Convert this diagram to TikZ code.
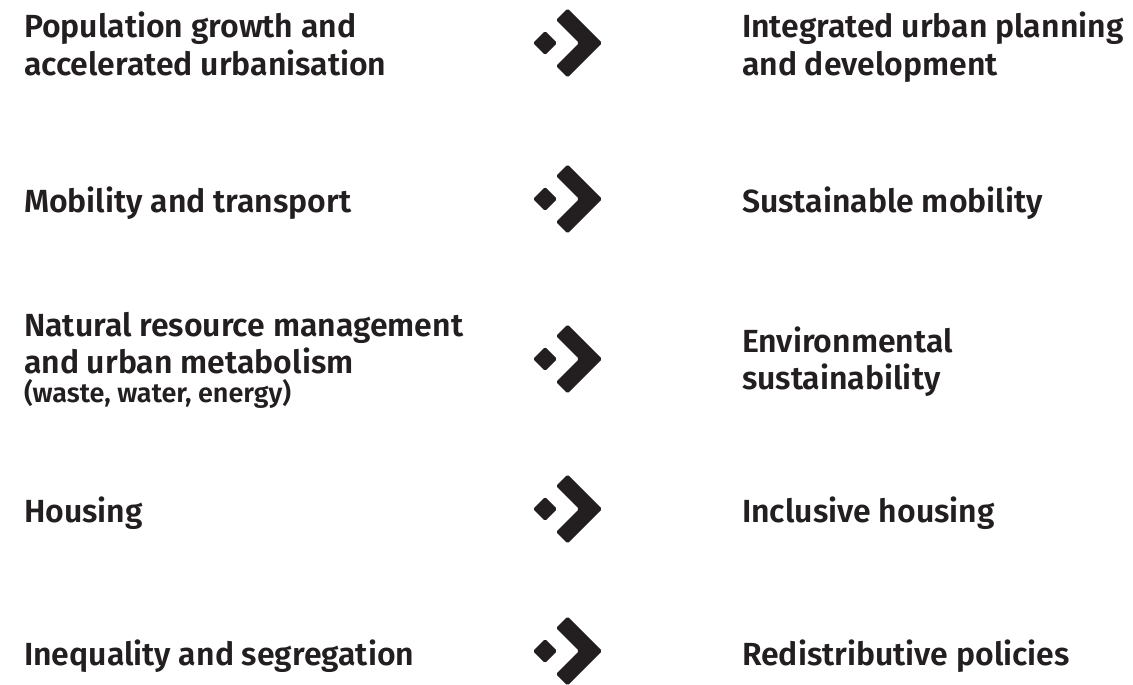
\documentclass[tikz,border=0pt]{standalone}
\usepackage{fontspec}
\setmainfont{Fira Sans}[BoldFont={Fira Sans SemiBold}]
\begin{document}
\definecolor{ink}{HTML}{231F20}
\tikzset{
  x=1pt, y=-1pt,
  % multi-line labels are placed by the baseline of their last line
  lbl/.style={anchor=base west, inner sep=0pt, outer sep=0pt, align=left,
    text=ink, font=\bfseries\fontsize{32}{37}\selectfont},
  sublbl/.style={lbl, font=\bfseries\fontsize{27}{30}\selectfont},
  arrowmark/.pic={
    % small diamond followed by a thick chevron
    \fill[ink, rounded corners=1.5pt] (-12,0) -- (0,-12) -- (12,0) -- (0,12) -- cycle;
    \fill[ink, rounded corners=1.5pt] (57,0) -- (22.5,-34.5) -- (11,-23) -- (34,0)
      -- (11,23) -- (22.5,34.5) -- cycle;
  }
}
\begin{tikzpicture}
\useasboundingbox[fill=white] (0,0) rectangle (1133,685);

% challenges
\node[lbl] (l1) at (24,75) {Population growth and\\accelerated urbanisation};
\node[lbl] (l2) at (24,212) {Mobility and transport};
\node[lbl] (l3) at (24,373) {Natural resource management\\and urban metabolism};
\node[sublbl] (l3s) at (24,402) {(waste, water, energy)};
\node[lbl] (l4) at (24,522) {Housing};
\node[lbl] (l5) at (24,665) {Inequality and segregation};

% markers
\pic (m1) at (545,43) {arrowmark};
\pic (m2) at (545,199) {arrowmark};
\pic (m3) at (545,359) {arrowmark};
\pic (m4) at (545,509) {arrowmark};
\pic (m5) at (545,651) {arrowmark};

% responses
\node[lbl] (r1) at (742,75) {Integrated urban planning\\and development};
\node[lbl] (r2) at (742,212) {Sustainable mobility};
\node[lbl] (r3) at (742,389) {Environmental\\sustainability};
\node[lbl] (r4) at (742,522) {Inclusive housing};
\node[lbl] (r5) at (742,665) {Redistributive policies};
\end{tikzpicture}
\end{document}
